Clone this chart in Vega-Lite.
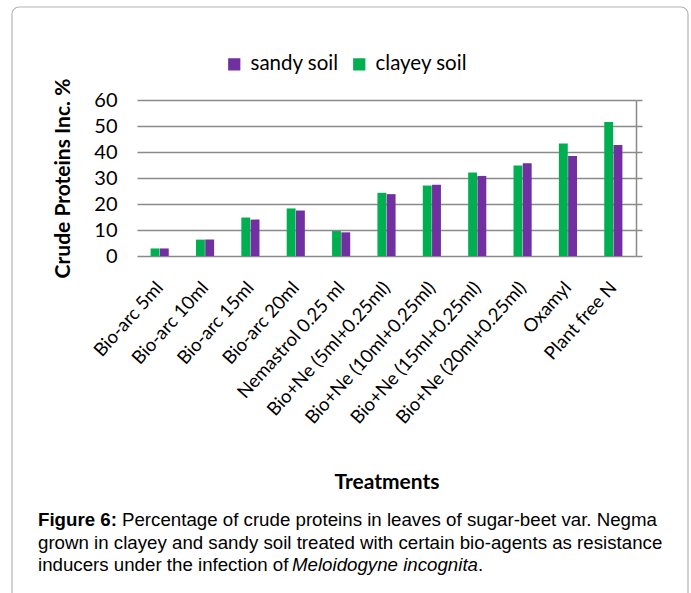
{
  "$schema": "https://vega.github.io/schema/vega-lite/v6.json",
  "width": 499,
  "height": 156,
  "autosize": {"type": "none"},
  "padding": {"left": 137, "top": 100, "right": 55, "bottom": 337},
  "background": "white",
  "config": {"view": {"stroke": null}, "font": "Lato"},
  "layer": [
    {
      "data": {"values": [{}]},
      "mark": {"type": "rect", "fill": null, "stroke": "#b3b3b3", "strokeWidth": 1.2, "cornerRadius": 7},
      "encoding": {
        "x": {"value": -125},
        "x2": {"value": 551},
        "y": {"value": -93},
        "y2": {"value": 520}
      }
    },
    {
      "data": {
        "values": [
          {"treatment": "Bio-arc 5ml", "soil": "clayey soil", "value": 2.9},
          {"treatment": "Bio-arc 5ml", "soil": "sandy soil", "value": 2.9},
          {"treatment": "Bio-arc 10ml", "soil": "clayey soil", "value": 6.3},
          {"treatment": "Bio-arc 10ml", "soil": "sandy soil", "value": 6.3},
          {"treatment": "Bio-arc 15ml", "soil": "clayey soil", "value": 14.8},
          {"treatment": "Bio-arc 15ml", "soil": "sandy soil", "value": 14.0},
          {"treatment": "Bio-arc 20ml", "soil": "clayey soil", "value": 18.3},
          {"treatment": "Bio-arc 20ml", "soil": "sandy soil", "value": 17.5},
          {"treatment": "Nemastrol 0.25 ml", "soil": "clayey soil", "value": 9.6},
          {"treatment": "Nemastrol 0.25 ml", "soil": "sandy soil", "value": 9.1},
          {"treatment": "Bio+Ne (5ml+0.25ml)", "soil": "clayey soil", "value": 24.3},
          {"treatment": "Bio+Ne (5ml+0.25ml)", "soil": "sandy soil", "value": 23.8},
          {"treatment": "Bio+Ne (10ml+0.25ml)", "soil": "clayey soil", "value": 27.1},
          {"treatment": "Bio+Ne (10ml+0.25ml)", "soil": "sandy soil", "value": 27.4},
          {"treatment": "Bio+Ne (15ml+0.25ml)", "soil": "clayey soil", "value": 32.1},
          {"treatment": "Bio+Ne (15ml+0.25ml)", "soil": "sandy soil", "value": 30.8},
          {"treatment": "Bio+Ne (20ml+0.25ml)", "soil": "clayey soil", "value": 34.8},
          {"treatment": "Bio+Ne (20ml+0.25ml)", "soil": "sandy soil", "value": 35.7},
          {"treatment": "Oxamyl", "soil": "clayey soil", "value": 43.3},
          {"treatment": "Oxamyl", "soil": "sandy soil", "value": 38.5},
          {"treatment": "Plant free N", "soil": "clayey soil", "value": 51.5},
          {"treatment": "Plant free N", "soil": "sandy soil", "value": 42.7}
        ]
      },
      "resolve": {"axis": {"y": "independent"}},
      "layer": [
        {
          "mark": {"type": "bar"},
          "encoding": {
            "x": {
              "field": "treatment",
              "type": "nominal",
              "sort": null,
              "scale": {"paddingInner": 0.6, "paddingOuter": 0.3},
              "axis": {
                "title": "Treatments",
                "titleFont": "Lato",
                "titleFontSize": 21,
                "titleFontWeight": "bold",
                "titleColor": "black",
                "titleBaseline": "middle",
                "titleY": 226,
                "domain": false,
                "ticks": false,
                "labelAngle": -48,
                "labelFontSize": 18.5,
                "labelColor": "black",
                "labelPadding": 28,
                "labelLimit": 300
              }
            },
            "xOffset": {
              "field": "soil",
              "type": "nominal",
              "sort": ["clayey soil", "sandy soil"],
              "scale": {"paddingInner": 0.04}
            },
            "y": {
              "field": "value",
              "type": "quantitative",
              "scale": {"domain": [0, 60]},
              "axis": {
                "orient": "left",
                "title": "Crude Proteins Inc. %",
                "titleFont": "Lato",
                "titleFontSize": 21,
                "titleFontWeight": "bold",
                "titleColor": "black",
                "titlePadding": 20,
                "values": [0, 10, 20, 30, 40, 50, 60],
                "domain": false,
                "ticks": false,
                "grid": true,
                "gridColor": "#8a8a8a",
                "gridWidth": 1.5,
                "labelFontSize": 20,
                "labelColor": "black",
                "labelPadding": 20
              }
            },
            "color": {
              "field": "soil",
              "type": "nominal",
              "scale": {"domain": ["sandy soil", "clayey soil"], "range": ["#7030A0", "#00B050"]},
              "legend": {
                "title": null,
                "orient": "none",
                "legendX": 87,
                "legendY": -46,
                "direction": "horizontal",
                "symbolType": "square",
                "symbolSize": 150,
                "symbolStrokeWidth": 0,
                "labelFontSize": 20.5,
                "labelColor": "black",
                "labelOffset": 6,
                "columnSpacing": 22
              }
            }
          }
        },
        {
          "mark": {"type": "rule", "opacity": 0},
          "encoding": {
            "y": {
              "field": "value",
              "type": "quantitative",
              "axis": {
                "orient": "right",
                "title": null,
                "labels": false,
                "grid": false,
                "values": [0, 10, 20, 30, 40, 50, 60],
                "domain": true,
                "domainColor": "#8a8a8a",
                "domainWidth": 1.5,
                "ticks": true,
                "tickSize": 6,
                "tickColor": "#8a8a8a",
                "tickWidth": 1.5
              }
            }
          }
        }
      ]
    },
    {
      "data": {"values": [{}]},
      "mark": {"type": "text", "font": "Liberation Sans", "fontSize": 18.7, "fontWeight": "bold", "align": "left", "baseline": "middle", "color": "black"},
      "encoding": {"x": {"value": -99}, "y": {"value": 420}, "text": {"value": "Figure 6:"}}
    },
    {
      "data": {"values": [{}]},
      "mark": {"type": "text", "font": "Liberation Sans", "fontSize": 18.7, "align": "left", "baseline": "middle", "color": "black"},
      "encoding": {"x": {"value": -15}, "y": {"value": 420}, "text": {"value": "Percentage of crude proteins in leaves of sugar-beet var. Negma"}}
    },
    {
      "data": {"values": [{}]},
      "mark": {"type": "text", "font": "Liberation Sans", "fontSize": 18.7, "align": "left", "baseline": "middle", "color": "black"},
      "encoding": {"x": {"value": -99}, "y": {"value": 443}, "text": {"value": "grown in clayey and sandy soil treated with certain bio-agents as resistance"}}
    },
    {
      "data": {"values": [{}]},
      "mark": {"type": "text", "font": "Liberation Sans", "fontSize": 18.7, "align": "left", "baseline": "middle", "color": "black"},
      "encoding": {"x": {"value": -99}, "y": {"value": 465}, "text": {"value": "inducers under the infection of"}}
    },
    {
      "data": {"values": [{}]},
      "mark": {"type": "text", "font": "Liberation Sans", "fontSize": 18.7, "fontStyle": "italic", "align": "left", "baseline": "middle", "color": "black"},
      "encoding": {"x": {"value": 155}, "y": {"value": 465}, "text": {"value": "Meloidogyne incognita"}}
    },
    {
      "data": {"values": [{}]},
      "mark": {"type": "text", "font": "Liberation Sans", "fontSize": 18.7, "align": "left", "baseline": "middle", "color": "black"},
      "encoding": {"x": {"value": 341}, "y": {"value": 465}, "text": {"value": "."}}
    }
  ]
}
